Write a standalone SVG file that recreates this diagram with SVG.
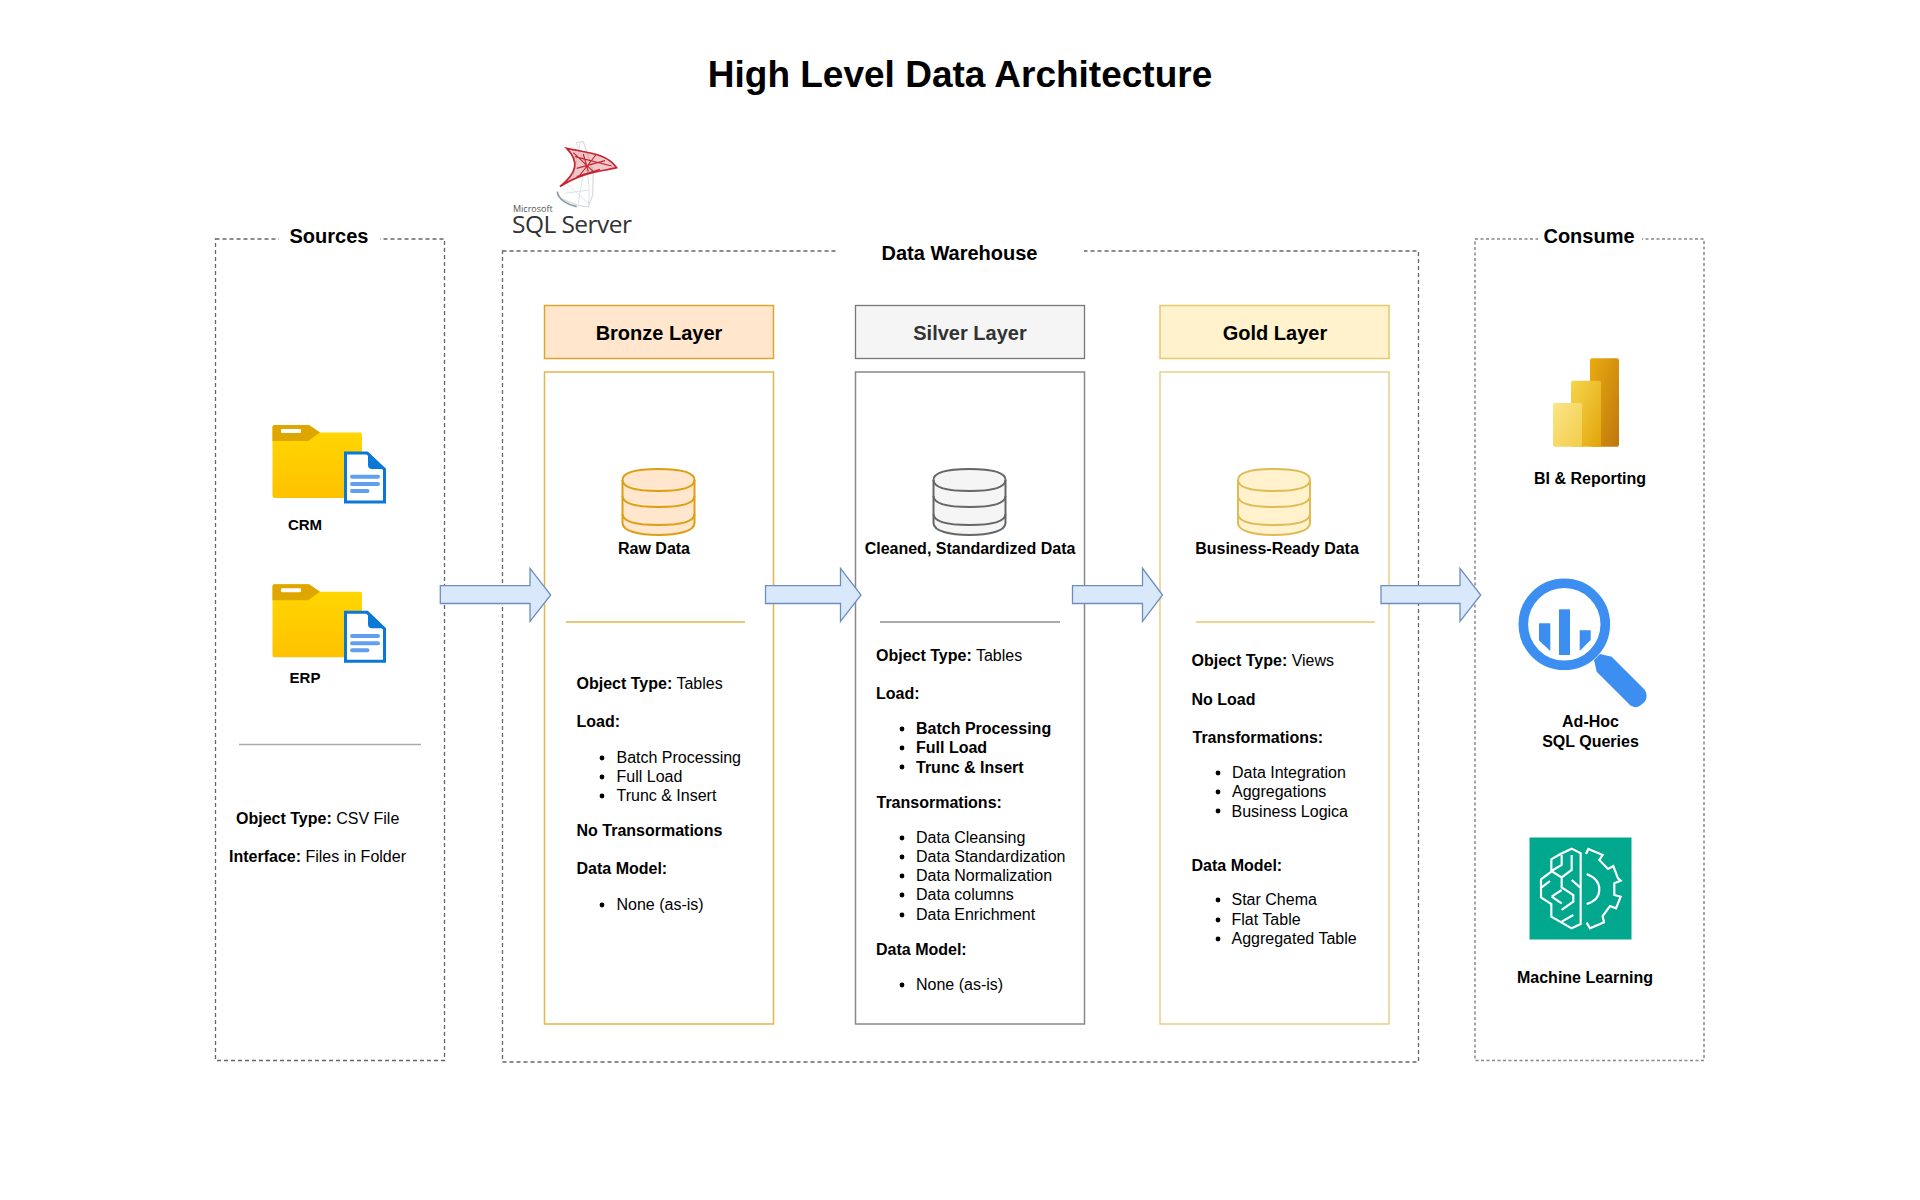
<svg xmlns="http://www.w3.org/2000/svg" width="1920" height="1200" viewBox="0 0 1920 1200">
<style>
text{font-family:"Liberation Sans",Arial,sans-serif;fill:#000;font-size:16px}
.b{font-weight:700}
.c{text-anchor:middle}
.h{font-size:20px;font-weight:700;text-anchor:middle}
.box{fill:none;stroke:#666;stroke-width:1.300;stroke-dasharray:4 3}
.arrow{fill:#dae8fc;stroke:#6c8ebf;stroke-width:1.300}
.dot{fill:#000}
</style>
<defs>
<linearGradient id="fy" x1="0" y1="0" x2="0" y2="1"><stop offset="0" stop-color="#ffd800"/><stop offset="1" stop-color="#ffc200"/></linearGradient>
<linearGradient id="p1" x1="0" y1="0" x2="1" y2="1"><stop offset="0" stop-color="#e8ac10"/><stop offset="1" stop-color="#c0760c"/></linearGradient>
<linearGradient id="p2" x1="0" y1="0" x2="1" y2="1"><stop offset="0" stop-color="#f6d54e"/><stop offset="1" stop-color="#e2a50a"/></linearGradient>
<linearGradient id="p3" x1="0" y1="0" x2="1" y2="1"><stop offset="0" stop-color="#fae588"/><stop offset="1" stop-color="#f3cd4a"/></linearGradient>
<g id="folder">
<path d="M272.500 427a2 2 0 0 1 2-2H309l11 7.500h40a2 2 0 0 1 2 2V496a2 2 0 0 1-2 2H274.500a2 2 0 0 1-2-2Z" fill="url(#fy)"/>
<path d="M272.500 427a2 2 0 0 1 2-2H309l11 7.500-12 8.500H272.500Z" fill="#dfa600"/>
<rect x="281" y="429" width="20" height="4" rx="1" fill="#fff"/>
<path d="M345.500 453H367l17.500 16.500V502H345.500Z" fill="#fff" stroke="#0a78d6" stroke-width="3"/>
<path d="M368 452l17.500 17H372a4 4 0 0 1-4-4Z" fill="#0a78d6"/>
<path d="M352 476.700H378M352 484H378M352 491H367.500" stroke="#60a0ee" stroke-width="4" stroke-linecap="round" fill="none"/>
</g>
<g id="cyl">
<path d="M0 12C0 4 14 1 36 1S72 4 72 12V55C72 63 56 67 36 67S0 63 0 55Z"/>
<path d="M0 12C0 20 16 23 36 23S72 20 72 12M0 28C0 36 16 39 36 39S72 36 72 28M0 46C0 54 16 57 36 57S72 54 72 46" fill="none"/>
</g>
</defs>
<rect width="1920" height="1200" fill="#fff"/>

<text class="b c" x="960" y="87" style="font-size:37px">High Level Data Architecture</text>

<g id="sql-server-logo">
<g transform="translate(200 130) scale(.3333)" fill="none">
<path d="M1128 38L1150 35L1180 125L1178 195L1165 230C1130 230 1110 215 1080 205" stroke="#d9dde0" stroke-width="4"/>
<path d="M1128 38C1150 90 1175 130 1165 225M1100 160L1170 225M1095 190L1165 180M1140 40L1120 140M1150 130L1135 220" stroke="#dfe2e4" stroke-width="3"/>
<path d="M1072 185C1075 210 1105 225 1130 230" stroke="#8c9aa6" stroke-width="5"/>
<path d="M1100 55C1160 68 1220 70 1250 113C1200 125 1150 125 1080 170C1130 130 1140 95 1100 55Z" fill="#c4252f" fill-opacity=".25" stroke="#c4252f" stroke-width="5"/>
<path d="M1125 80L1235 108M1120 68L1180 125M1190 72L1140 135M1130 115L1215 92M1150 72L1165 125M1130 140L1200 118" stroke="#c4252f" stroke-width="3.500"/>
</g>
<text x="513" y="212" style="font-family:'Open Sans',sans-serif;font-size:9px;fill:#555">Microsoft</text>
<text x="512" y="233" style="font-family:'Open Sans',sans-serif;font-size:24.500px;fill:#333;letter-spacing:-.55px">SQL Server</text>
</g>

<g id="sources">
<rect class="box" x="215.500" y="239" width="229" height="821.500"/>
<rect x="279" y="230" width="101" height="18" fill="#fff"/>
<text class="h" x="329" y="243">Sources</text>
<use href="#folder"/>
<use href="#folder" y="159.300"/>
<text class="b c" x="305" y="530" style="font-size:15px">CRM</text>
<text class="b c" x="305" y="683" style="font-size:15px">ERP</text>
<path d="M239 744.500H421" stroke="#aaa" stroke-width="1.500"/>
<text x="236" y="824"><tspan class="b">Object Type:</tspan> CSV File</text>
<text x="229" y="862"><tspan class="b">Interface:</tspan> Files in Folder</text>
</g>

<g id="data-warehouse">
<rect class="box" x="502.500" y="251" width="916" height="811"/>
<rect x="836" y="240" width="248" height="20" fill="#fff"/>
<text class="h" x="959.500" y="260">Data Warehouse</text>
</g>

<g id="bronze">
<rect x="544.500" y="305.500" width="229" height="53" fill="#ffe6cc" stroke="#dfa62e" stroke-width="1.500"/>
<text class="h" x="659" y="340">Bronze Layer</text>
<rect x="544.500" y="372" width="229" height="652" fill="#fff" stroke="#e3b54a" stroke-width="1.500"/>
<use href="#cyl" x="622.500" y="468" fill="#ffe6cc" stroke="#dc9f12" stroke-width="2"/>
<text class="b c" x="654" y="554">Raw Data</text>
<path d="M566 622H745" stroke="#e9c878" stroke-width="2"/>
<text x="576.500" y="689"><tspan class="b">Object Type:</tspan> Tables</text>
<text class="b" x="576.500" y="727">Load:</text>
<circle class="dot" cx="602" cy="758" r="2.400"/><circle class="dot" cx="602" cy="777" r="2.400"/><circle class="dot" cx="602" cy="796" r="2.400"/>
<text x="616.500" y="763">Batch Processing</text><text x="616.500" y="782">Full Load</text><text x="616.500" y="801">Trunc &amp; Insert</text>
<text class="b" x="576.500" y="836">No Transormations</text>
<text class="b" x="576.500" y="874">Data Model:</text>
<circle class="dot" cx="602" cy="905" r="2.400"/>
<text x="616.500" y="910">None (as-is)</text>
</g>

<g id="silver">
<rect x="855.500" y="305.500" width="229" height="53" fill="#f5f5f5" stroke="#777" stroke-width="1.300"/>
<text class="h" x="970" y="340" style="fill:#333">Silver Layer</text>
<rect x="855.500" y="372" width="229" height="652" fill="#fff" stroke="#888" stroke-width="1.500"/>
<use href="#cyl" x="933.500" y="468" fill="#f5f5f5" stroke="#666" stroke-width="2"/>
<text class="b c" x="970" y="554">Cleaned, Standardized Data</text>
<path d="M880 622H1060" stroke="#aaa" stroke-width="2"/>
<text x="876" y="661"><tspan class="b">Object Type:</tspan> Tables</text>
<text class="b" x="876" y="699">Load:</text>
<circle class="dot" cx="902" cy="729" r="2.400"/><circle class="dot" cx="902" cy="748" r="2.400"/><circle class="dot" cx="902" cy="767" r="2.400"/>
<text class="b" x="916" y="734">Batch Processing</text><text class="b" x="916" y="753">Full Load</text><text class="b" x="916" y="772.500">Trunc &amp; Insert</text>
<text class="b" x="876.500" y="808">Transormations:</text>
<circle class="dot" cx="902" cy="838" r="2.400"/><circle class="dot" cx="902" cy="857" r="2.400"/><circle class="dot" cx="902" cy="876" r="2.400"/><circle class="dot" cx="902" cy="895" r="2.400"/><circle class="dot" cx="902" cy="915" r="2.400"/>
<text x="916" y="843">Data Cleansing</text><text x="916" y="862">Data Standardization</text><text x="916" y="881">Data Normalization</text><text x="916" y="900">Data columns</text><text x="916" y="920">Data Enrichment</text>
<text class="b" x="876" y="955">Data Model:</text>
<circle class="dot" cx="902" cy="985" r="2.400"/>
<text x="916" y="990">None (as-is)</text>
</g>

<g id="gold">
<rect x="1160" y="305.500" width="229" height="53" fill="#fff2cc" stroke="#e5c96a" stroke-width="1.500"/>
<text class="h" x="1275" y="340">Gold Layer</text>
<rect x="1160" y="372" width="229" height="652" fill="#fff" stroke="#e7cf85" stroke-width="1.500"/>
<use href="#cyl" x="1238" y="468" fill="#fff2cc" stroke="#e0bb55" stroke-width="2"/>
<text class="b c" x="1277" y="554">Business-Ready Data</text>
<path d="M1196 622H1375" stroke="#eed595" stroke-width="2"/>
<text x="1191.500" y="666"><tspan class="b">Object Type:</tspan> Views</text>
<text class="b" x="1191.500" y="705">No Load</text>
<text class="b" x="1192.500" y="743">Transformations:</text>
<circle class="dot" cx="1218" cy="773" r="2.400"/><circle class="dot" cx="1218" cy="792" r="2.400"/><circle class="dot" cx="1218" cy="811" r="2.400"/>
<text x="1232" y="778">Data Integration</text><text x="1232" y="797">Aggregations</text><text x="1231.500" y="817">Business Logica</text>
<text class="b" x="1191.500" y="870.500">Data Model:</text>
<circle class="dot" cx="1218" cy="900" r="2.400"/><circle class="dot" cx="1218" cy="920" r="2.400"/><circle class="dot" cx="1218" cy="939" r="2.400"/>
<text x="1231.500" y="905">Star Chema</text><text x="1231.500" y="925">Flat Table</text><text x="1231.500" y="944">Aggregated Table</text>
</g>

<g id="consume">
<rect x="1475" y="239" width="229" height="821.500" fill="none" stroke="#888" stroke-width="1.500" stroke-dasharray="3 2.500"/>
<rect x="1538" y="230" width="104" height="18" fill="#fff"/>
<text class="h" x="1589" y="243">Consume</text>
<g id="powerbi">
<rect x="1590" y="358.300" width="29" height="88.500" rx="2" fill="url(#p1)"/>
<rect x="1571" y="380.700" width="30" height="66" rx="2" fill="url(#p2)"/>
<rect x="1553" y="403" width="29" height="43.700" rx="2" fill="url(#p3)"/>
</g>
<text class="b c" x="1590" y="484">BI &amp; Reporting</text>
<g id="adhoc" fill="#3c8ff0">
<circle cx="1564.300" cy="624.300" r="41" fill="none" stroke="#3c8ff0" stroke-width="9.600"/>
<path d="M1539 623.300H1550.300V651L1539 640.500Z"/>
<rect x="1559" y="609.300" width="11" height="45.700"/>
<path d="M1579.700 630.300H1590.700V640L1579.700 651Z"/>
<path d="M1594 660L1600 654L1611.700 656.700L1644 689C1649 695 1646 702 1642 704C1638 708 1634 708 1630 705L1596.700 671.700Z"/>
</g>
<text class="b c" x="1590.500" y="727">Ad-Hoc</text>
<text class="b c" x="1590.500" y="747">SQL Queries</text>
<g id="ml">
<rect x="1529.500" y="837.500" width="102" height="102" fill="#01a88d"/>
<g transform="translate(1480 800) scale(.3333)" fill="none" stroke="#fff" stroke-width="6.500">
<path d="M302 160L275 146L240 163L214 178V215L183 238V292L214 312V350L275 385L302 372Z"/>
<path d="M245 165V195L214 213M275 165V210L245 232L214 213M245 232V262L280 285V305L245 330M210 243L185 262M275 240L300 262M215 290L245 270M215 290L245 310M245 365L280 345"/>
<path d="M318 162L325 147L368 165L358 180L384 207L400 198L414 235L422 242L403 250V285L422 290L408 325L390 318L368 348L372 367L330 385L320 368"/>
<path d="M320 222C345 232 358 250 358 268C358 290 345 305 320 312"/>
</g>
</g>
<text class="b c" x="1585" y="983">Machine Learning</text>
</g>

<g id="connectors">
<path class="arrow" d="M440.300 585.700H530V568.300L550.700 595L530 621.300V603.500H440.300Z"/>
<path class="arrow" d="M765.500 585.700H840.500V568.300L861 595L840.500 621.300V603.500H765.500Z"/>
<path class="arrow" d="M1072.500 585.700H1142.500V568.300L1162.500 595L1142.500 621.300V603.500H1072.500Z"/>
<path class="arrow" d="M1381 585.700H1460V568.300L1480.700 595L1460 621.300V603.500H1381Z"/>
</g>
</svg>
